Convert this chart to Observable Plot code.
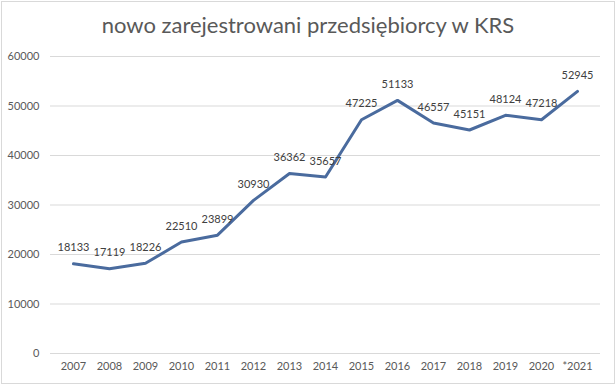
<!DOCTYPE html>
<html>
<head>
<meta charset="utf-8">
<script src="https://cdn.jsdelivr.net/npm/d3@7"></script>
<script src="https://cdn.jsdelivr.net/npm/@observablehq/plot@0.6"></script>
<style>
  html, body { margin: 0; padding: 0; background: #fff; }
  #wrap { position: relative; width: 616px; height: 385px; overflow: hidden; background: #fff; }
  #frame { position: absolute; left: 1px; top: 1px; width: 612px; height: 381px; border: 1px solid #d9d9d9; pointer-events: none; }
  #title { position: absolute; left: 0; top: 11px; width: 616px; text-align: center; font-family: Lato, sans-serif; font-size: 22px; color: #595959; white-space: nowrap; }
  #chart { position: absolute; left: 0; top: 0; }
</style>
</head>
<body>
<div id="wrap">
  <div id="chart"></div>
  <div id="title">nowo zarejestrowani przedsiębiorcy w KRS</div>
  <div id="frame"></div>
</div>
<script>
const years = ["2007","2008","2009","2010","2011","2012","2013","2014","2015","2016","2017","2018","2019","2020","*2021"];
const values = [18133,17119,18226,22510,23899,30930,36362,35657,47225,51133,46557,45151,48124,47218,52945];
const yTicks = [0,10000,20000,30000,40000,50000,60000];

const data = years.map((year, i) => ({year, value: values[i]}));

const plot = Plot.plot({
  width: 616,
  height: 385,
  marginTop: 56,
  marginBottom: 32,
  marginLeft: 50,
  marginRight: 16,
  style: {fontFamily: "Lato, sans-serif", fontSize: "11px", color: "#595959", background: "transparent"},
  x: {type: "band", domain: years, padding: 0, label: null, tickSize: 0, tickPadding: 9},
  y: {domain: [0, 60000], ticks: yTicks, label: null, tickSize: 0, tickPadding: 11, tickFormat: d => String(d)},
  marks: [
    Plot.gridY(yTicks, {stroke: "#d9d9d9", strokeOpacity: 1, strokeWidth: 1}),
    Plot.axisX({tickSize: 0, tickPadding: 9, fill: "#595959"}),
    Plot.axisY({ticks: yTicks, tickSize: 0, tickPadding: 11, tickFormat: d => String(d), fill: "#595959"}),
    Plot.line(data, {x: "year", y: "value", stroke: "#4a6b9e", strokeWidth: 3, strokeLinejoin: "round", strokeLinecap: "round"}),
    Plot.text(data, {x: "year", y: "value", text: d => String(d.value), dy: -16, fill: "#404040", fontSize: 11})
  ]
});
document.getElementById("chart").appendChild(plot);
</script>
</body>
</html>
